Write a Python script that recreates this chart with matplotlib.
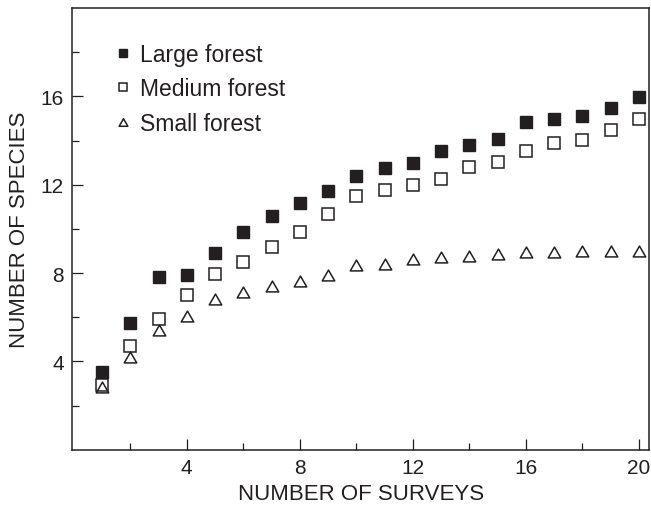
import numpy as np
import matplotlib
matplotlib.use('Agg')
import matplotlib.pyplot as plt
from matplotlib.path import Path

# number of surveys
surveys = np.arange(1, 21)

# cumulative number of species per forest size
large_forest = [3.5, 5.75, 7.8, 7.93, 8.89, 9.84, 10.57, 11.17, 11.73, 12.41,
                12.76, 12.98, 13.51, 13.78, 14.09, 14.82, 14.97, 15.1, 15.46, 15.97]
medium_forest = [2.95, 4.68, 5.93, 7.0, 7.96, 8.48, 9.18, 9.86, 10.69, 11.47,
                 11.78, 11.99, 12.27, 12.8, 13.01, 13.54, 13.89, 14.03, 14.46, 14.98]
small_forest = [2.85, 4.18, 5.43, 6.07, 6.82, 7.12, 7.4, 7.62, 7.9, 8.35,
                8.42, 8.64, 8.73, 8.79, 8.88, 8.94, 8.94, 9.01, 9.01, 9.0]

labels = ['Large forest', 'Medium forest', 'Small forest']

dark = '#231f20'
plt.rc('font', family=['Liberation Sans', 'DejaVu Sans'])

fig = plt.figure(figsize=(6.51, 5.06), dpi=100)
ax = fig.add_axes([0.1111, 0.1093, 0.8863, 0.8729])

# closed equilateral triangle marker
tri = Path([(-1, -0.866), (1, -0.866), (0, 0.866), (0, 0)],
           [Path.MOVETO, Path.LINETO, Path.LINETO, Path.CLOSEPOLY])

ax.plot(surveys, large_forest, ls='none', marker='s', ms=8.6,
        mfc=dark, mec=dark, mew=1.0, label=labels[0])
ax.plot(surveys, medium_forest, ls='none', marker='s', ms=8.6,
        mfc='white', mec=dark, mew=1.1, label=labels[1])
ax.plot(surveys, small_forest, ls='none', marker=tri, ms=9.0,
        mfc='none', mec=dark, mew=1.1, label=labels[2])

ax.set_xlim(-0.05, 20.37)
ax.set_ylim(0, 20)
ax.set_xticks([4, 8, 12, 16, 20])
ax.set_xticks([2, 6, 10, 14, 18], minor=True)
ax.set_yticks([4, 8, 12, 16])
ax.set_yticks([2, 6, 10, 14, 18], minor=True)
ax.tick_params(which='both', direction='in', colors=dark, width=0.9,
               labelsize=15, pad=6)
ax.tick_params(which='major', length=8)
ax.tick_params(which='minor', length=5)
for s in ax.spines.values():
    s.set_linewidth(1.1)
    s.set_color(dark)

ax.set_xlabel('NUMBER OF SURVEYS', fontsize=16, color=dark, labelpad=4)
ax.set_ylabel('NUMBER OF SPECIES', fontsize=16, color=dark, labelpad=8)

leg = ax.legend(loc='upper left', bbox_to_anchor=(0.041, 0.968), frameon=False,
                fontsize=16.5, handlelength=0.6, handletextpad=0.4,
                labelspacing=0.5, markerscale=0.7, numpoints=1)
for t in leg.get_texts():
    t.set_color(dark)

fig.savefig('out.png', dpi=100)
